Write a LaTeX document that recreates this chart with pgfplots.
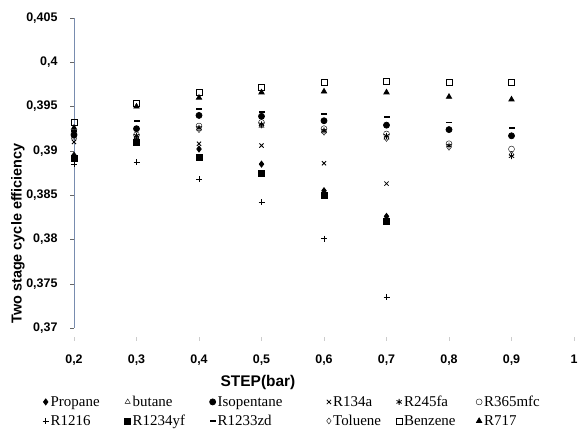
\documentclass[border=0pt]{standalone}
\usepackage{pgfplots}
\pgfplotsset{compat=1.18}
\usepackage{fontspec}
\setmainfont{Liberation Serif}
\setsansfont{Liberation Sans}
\definecolor{axblue}{RGB}{120,140,175}
\newcommand\legw[2]{\makebox[#1][l]{#2}}
\pgfplotsset{mylegend/.style={legend image code/.code={\draw[##1] plot coordinates {(0bp,0bp)};}}}
\begin{document}
\begin{tikzpicture}[x=1bp,y=1bp]
\useasboundingbox (0,0) rectangle (580,435);
\begin{axis}[
  at={(74bp,107bp)}, anchor=south west,
  scale only axis, width=500bp, height=310bp,
  xmin=0.2, xmax=1, ymin=0.37, ymax=0.405,
  xtick={0.2,0.3,0.4,0.5,0.6,0.7,0.8,0.9,1},
  ytick={0.37,0.375,0.38,0.385,0.39,0.395,0.4,0.405},
  axis lines=left, axis line style={-},
  x axis line style={draw=none},
  y axis line style={draw=axblue, line width=0.8bp},
  tick align=outside, major tick length=4bp,
  xtick style={draw=black!20, yshift=-9bp}, ytick style={draw=black!60},
  /pgf/number format/.cd, use comma, fixed, precision=3, assume math mode=true, /pgfplots/.cd,
  ticklabel style={font=\sffamily\bfseries\fontsize{12.5}{13}\selectfont},
  yticklabel style={xshift=-9bp},
  xticklabel style={yshift=-19bp},
  xlabel={STEP(bar)},
  xlabel style={font=\sffamily\bfseries\fontsize{15.5}{17}\selectfont, at={(axis description cs:0.368,-0.177)}, anchor=center},
  ylabel={Two stage cycle efficiency},
  ylabel style={font=\sffamily\bfseries\fontsize{14.5}{16}\selectfont, at={(axis description cs:-0.112,0.305)}, anchor=center, rotate=0},
  legend columns=6,
  legend style={at={(axis description cs:-0.063,-0.212)}, anchor=north west, draw=none, fill=none,
    font=\fontsize{15}{17}\selectfont, row sep=3bp, inner sep=0pt,
    /tikz/every even column/.append style={column sep=0bp}},
  mylegend,
  every axis plot/.append style={only marks, black, mark size=3bp, mark options={solid, fill=black, line width=0.8bp}},
  clip=false,
]
\addplot[mark=diamond*, mylegend] coordinates {(0.2,0.3895) (0.3,0.3910) (0.4,0.3902) (0.5,0.3885) (0.6,0.3855) (0.7,0.3826)};
\addlegendentry{\legw{72bp}{Propane}}
\addplot[mark=triangle, mark options={fill=white}, mylegend] coordinates {(0.2,0.3915) (0.3,0.3915) (0.4,0.3925) (0.5,0.3928) (0.6,0.3922) (0.7,0.3915)};
\addlegendentry{\legw{75bp}{butane}}
\addplot[mark=*, mylegend] coordinates {(0.2,0.3918) (0.3,0.3925) (0.4,0.3940) (0.5,0.3939) (0.6,0.3934) (0.7,0.3929) (0.8,0.3924) (0.9,0.3917)};
\addlegendentry{\legw{107bp}{Isopentane}}
\addplot[mark=x, mylegend] coordinates {(0.2,0.3910) (0.3,0.3912) (0.4,0.3908) (0.5,0.3906) (0.6,0.3886) (0.7,0.3863)};
\addlegendentry{\legw{61bp}{R134a}}
\addplot[mark=asterisk, mylegend] coordinates {(0.2,0.3917) (0.3,0.3917) (0.4,0.3926) (0.5,0.3930) (0.6,0.3923) (0.7,0.3917) (0.8,0.3906) (0.9,0.3894)};
\addlegendentry{\legw{70bp}{R245fa}}
\addplot[mark=o, mark options={fill=white}, mylegend] coordinates {(0.2,0.3920) (0.3,0.3918) (0.4,0.3928) (0.5,0.3932) (0.6,0.3925) (0.7,0.3919) (0.8,0.3908) (0.9,0.3902)};
\addlegendentry{\legw{60bp}{R365mfc}}
\addplot[mark=+, mylegend] coordinates {(0.2,0.3885) (0.3,0.3887) (0.4,0.3868) (0.5,0.3842) (0.6,0.3801) (0.7,0.3735)};
\addlegendentry{\legw{72bp}{R1216}}
\addplot[mark=square*, mylegend] coordinates {(0.2,0.3892) (0.3,0.3910) (0.4,0.3893) (0.5,0.3875) (0.6,0.3850) (0.7,0.3820)};
\addlegendentry{\legw{75bp}{R1234yf}}
\addplot[mark=-, mark options={line width=1.8bp}, mylegend] coordinates {(0.2,0.3922) (0.3,0.3934) (0.4,0.3947) (0.5,0.3944) (0.6,0.3942) (0.7,0.3938) (0.8,0.3932) (0.9,0.3926)};
\addlegendentry{\legw{107bp}{R1233zd}}
\addplot[mark=diamond, mark options={fill=white}, mylegend] coordinates {(0.2,0.3918) (0.3,0.3916) (0.4,0.3924) (0.5,0.3929) (0.6,0.3921) (0.7,0.3914) (0.8,0.3904) (0.9,0.3896)};
\addlegendentry{\legw{61bp}{Toluene}}
\addplot[mark=square, mark options={fill=white}, mylegend] coordinates {(0.2,0.3932) (0.3,0.3954) (0.4,0.3966) (0.5,0.3972) (0.6,0.3978) (0.7,0.3979) (0.8,0.3978) (0.9,0.3978)};
\addlegendentry{\legw{70bp}{Benzene}}
\addplot[mark=triangle*, mylegend] coordinates {(0.2,0.3926) (0.3,0.3950) (0.4,0.3960) (0.5,0.3966) (0.6,0.3967) (0.7,0.3966) (0.8,0.3961) (0.9,0.3958)};
\addlegendentry{\legw{60bp}{R717}}
\end{axis}
\end{tikzpicture}
\end{document}
